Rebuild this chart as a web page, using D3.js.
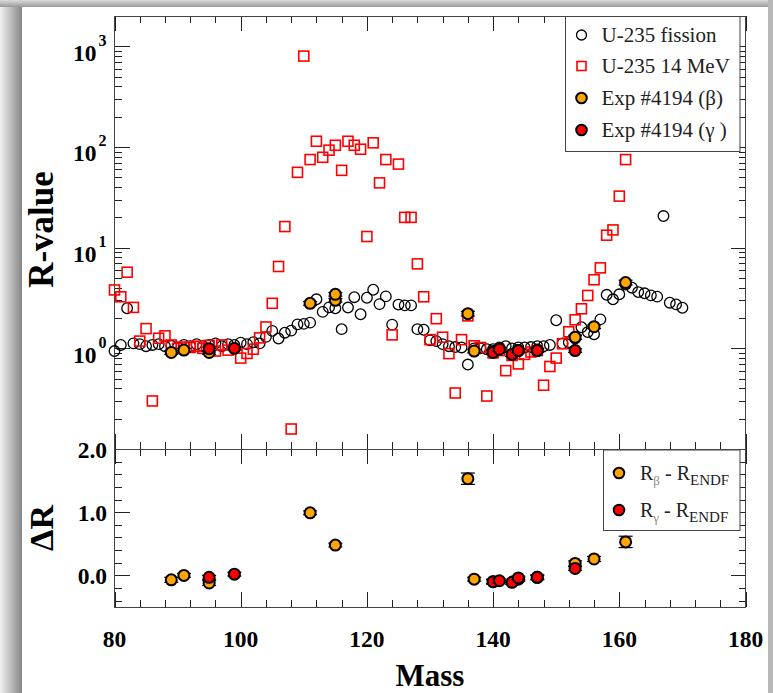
<!DOCTYPE html>
<html>
<head>
<meta charset="utf-8">
<script src="https://d3js.org/d3.v7.min.js"></script>
<style>
  body { margin: 0; background: #fff; }
  svg text { font-family: "Liberation Serif", "Times New Roman", serif; }
</style>
</head>
<body>
<div id="chart"></div>
<script>
// ---- data ----
var fissionMass = [80,81,82,83,84,85,86,87,88,89,90,91,92,93,94,95,96,97,98,99,100,101,102,103,104,105,106,107,108,109,110,
  111,112,113,114,115,116,117,118,119,120,121,122,123,124,125,126,127,128,129,130,131,132,133,134,135,136,137,138,139,140,
  141,142,143,144,145,146,147,148,149,150,151,152,153,154,155,156,157,158,159,160,161,162,163,164,165,166,167,168,169,170];
var fissionR = [0.94,1.08,2.5,1.12,1.1,1.05,1.08,1.1,1.05,1.06,1.02,1.08,1.05,1.1,1.05,1.08,1.12,1.05,1.1,1.08,1.14,
  1.1,1.15,1.12,1.3,1.49,1.25,1.43,1.5,1.73,1.75,1.8,3.07,2.3,2.55,2.5,1.55,2.54,3.22,2.18,3.18,3.82,2.75,3.28,1.72,
  2.72,2.67,2.67,1.55,1.53,1.2,1.18,1.1,1.05,1.03,1.02,0.69,1.0,1.0,0.98,0.98,1.02,1.05,1.0,1.02,1.02,1.03,1.05,1.05,
  1.08,1.9,1.12,1.15,1.25,1.62,1.45,1.38,1.94,3.4,3.07,3.44,4.3,4.0,3.62,3.52,3.36,3.26,20.6,2.84,2.73,2.53];

var mev14Mass = [80,81,82,83,84,85,86,87,88,89,90,91,92,93,94,95,96,97,98,100,101,102,103,104,105,106,107,108,109,110,
  111,112,113,114,115,116,117,118,119,120,121,122,123,124,125,126,127,128,129,130,131,132,133,134,135,136,137,138,139,140,
  141,142,143,144,145,146,147,148,149,150,151,152,153,154,155,156,157,158,159,160,161];
var mev14R = [3.8,3.25,5.7,2.55,1.18,1.57,0.30,1.26,1.33,1.08,1.0,1.03,1.02,1.05,1.0,1.07,0.94,1.08,0.96,0.80,
  0.89,0.98,1.27,1.63,2.8,6.5,16.2,0.158,56,800,75,114,79,93,104,58.6,114,104,95,12.9,110,44,75,1.36,67.6,20,20,
  6.9,3.25,1.22,1.97,1.29,0.886,0.36,1.22,2.1,1.06,1.02,0.336,0.9,0.95,0.6,0.85,0.70,0.87,0.92,0.95,0.43,0.66,0.80,
  1.11,1.46,1.92,2.47,3.35,4.8,6.3,13.3,15,32.5,75];

var betaMass = [89,91,95,111,115,115,136,137,140,144,147,153,156,161];
var betaR    = [0.91,0.96,0.91,2.8,3.0,3.44,2.21,0.94,0.93,0.95,0.96,1.29,1.64,4.5];
var betaErr  = [0.04,0.04,0.04,0.12,0.12,0.14,0.12,0.04,0.04,0.04,0.04,0.06,0.07,0.25];

var gammaMass = [95,99,140,141,143,144,147,153];
var gammaR    = [0.99,1.0,0.91,0.98,0.87,0.95,0.95,0.95];
var gammaErr  = [0.04,0.04,0.04,0.04,0.04,0.04,0.04,0.04];

var dBetaMass = [89,91,95,111,115,136,137,140,144,147,153,156,161];
var dBetaR    = [-0.07,0.0,-0.12,0.99,0.48,1.53,-0.06,-0.1,-0.06,-0.03,0.19,0.26,0.53];
var dBetaErr  = [0.04,0.03,0.04,0.03,0.03,0.09,0.03,0.04,0.03,0.04,0.04,0.04,0.09];

var dGammaMass = [95,99,140,141,143,144,147,153];
var dGammaR    = [-0.03,0.02,-0.1,-0.085,-0.11,-0.04,-0.03,0.11];
var dGammaErr  = [0.03,0.03,0.03,0.03,0.03,0.03,0.03,0.03];

var xTicks = [80,100,120,140,160,180];
var logTicks = [1,10,100,1000];
var dTicks = [0,1,2];

var legendTop = ["U-235 fission","U-235 14 MeV","Exp #4194 (\u03b2)","Exp #4194 (\u03b3 )"];

// ---- layout ----
var W = 773, H = 693;
var pLeft = 114.5, pRight = 745.5, pTop = 16, pMid = 449, pBottom = 607;

var svg = d3.select("#chart").append("svg")
  .attr("width", W).attr("height", H);

// card + shadow
var defs = svg.append("defs");
var lg = defs.append("linearGradient").attr("id","shL").attr("x1",0).attr("x2",1).attr("y1",0).attr("y2",0);
lg.append("stop").attr("offset",0).attr("stop-color","#f2f2f2");
lg.append("stop").attr("offset",1).attr("stop-color","#858585");
var tg = defs.append("linearGradient").attr("id","shT").attr("x1",0).attr("x2",0).attr("y1",0).attr("y2",1);
tg.append("stop").attr("offset",0).attr("stop-color","#dcdcdc");
tg.append("stop").attr("offset",1).attr("stop-color","#9a9a9a");

svg.append("rect").attr("x",0).attr("y",0).attr("width",W).attr("height",H).attr("fill","#fff");
svg.append("rect").attr("x",0).attr("y",0).attr("width",22).attr("height",H).attr("fill","url(#shL)");
svg.append("rect").attr("x",0).attr("y",0).attr("width",W).attr("height",7).attr("fill","url(#shT)");
svg.append("rect").attr("x",768).attr("y",0).attr("width",5).attr("height",H).attr("fill","#b8b8b8");
svg.append("rect").attr("x",22).attr("y",7).attr("width",746).attr("height",H).attr("fill","#fff");

// scales
var x = d3.scaleLinear().domain([80,180]).range([pLeft,pRight]);
var yTop = d3.scaleLog().domain([0.1,2000]).range([pMid,pTop]);
var yBot = d3.scaleLinear().domain([-0.5,2.0]).range([pBottom,pMid]);

var xMinor = d3.range(80,181,4).filter(function(d){ return xTicks.indexOf(d) < 0; });
var yTopMajor = [0.1].concat(logTicks);
var yTopMinor = yTop.ticks().filter(function(d){ return yTopMajor.indexOf(d) < 0 && d < 2000; });
var yBotMinor = d3.range(-0.4,2.0,0.2).map(function(d){ return Math.round(d*10)/10; })
  .filter(function(d){ return dTicks.indexOf(d) < 0; });

var tickCol = "#222";
function ticks(g, gen, vals, len) {
  g.call(gen.tickValues(vals).tickSize(-len).tickFormat(""));
  g.select(".domain").remove();
  g.selectAll("line").attr("stroke", tickCol).attr("shape-rendering","crispEdges");
}

function panel(yScale, y0, y1, majY, minY) {
  var g = svg.append("g");
  [[majY,15],[minY,7]].forEach(function(p){
    ticks(g.append("g").attr("transform","translate("+pLeft+",0)"), d3.axisLeft(yScale), p[0], p[1]);
    ticks(g.append("g").attr("transform","translate("+pRight+",0)"), d3.axisRight(yScale), p[0], p[1]);
  });
  [[xTicks,15],[xMinor,7]].forEach(function(p){
    ticks(g.append("g").attr("transform","translate(0,"+y0+")"), d3.axisTop(x), p[0], p[1]);
    ticks(g.append("g").attr("transform","translate(0,"+y1+")"), d3.axisBottom(x), p[0], p[1]);
  });
  g.append("rect").attr("x",pLeft).attr("y",y0).attr("width",pRight-pLeft).attr("height",y1-y0)
    .attr("fill","none").attr("stroke","#444").attr("shape-rendering","crispEdges");
}
panel(yTop, pTop, pMid, yTopMajor, yTopMinor);
panel(yBot, pMid, pBottom, dTicks, yBotMinor);

// ---- tick labels ----
var lab = svg.append("g").attr("font-weight","bold").attr("fill","#000");
lab.selectAll(".xl").data(xTicks).enter().append("text")
  .attr("x", function(d){ return x(d); }).attr("y", 647)
  .attr("text-anchor","middle").attr("font-size",23.5).text(function(d){ return d; });

var ll = lab.selectAll(".yl").data(logTicks).enter().append("text")
  .attr("x", 106.5).attr("y", function(d){ return yTop(d) + 14.5; })
  .attr("text-anchor","end").attr("font-size",23.5);
ll.append("tspan").text("10");
ll.append("tspan").attr("dx",2).attr("dy",-15).attr("font-size",16)
  .text(function(d){ return Math.round(Math.log10(d)); });

lab.selectAll(".dl").data(dTicks).enter().append("text")
  .attr("x", 107).attr("y", function(d){ return yBot(d) + 8.5; })
  .attr("text-anchor","end").attr("font-size",23.5)
  .text(function(d){ return d3.format(".1f")(d); });

// axis titles
svg.append("text").attr("x",(pLeft+pRight)/2).attr("y",686).attr("text-anchor","middle")
  .attr("font-weight","bold").attr("font-size",31).text("Mass");
svg.append("text").attr("transform","translate(53,"+((pTop+pMid)/2 - 3)+")rotate(-90)")
  .attr("text-anchor","middle").attr("font-weight","bold").attr("font-size",35).text("R-value");
svg.append("text").attr("transform","translate(53,"+((pMid+pBottom)/2)+")rotate(-90)")
  .attr("text-anchor","middle").attr("font-weight","bold").attr("font-size",34).text("\u0394R");

// ---- marks ----
function zip(a,b,c){ return a.map(function(m,i){ return {m:m, v:b[i], e:c ? c[i] : 0}; }); }

function openCircles(g, data, yScale) {
  g.selectAll(null).data(data).enter().append("circle")
    .attr("cx", function(d){ return x(d.m); }).attr("cy", function(d){ return yScale(d.v); })
    .attr("r",5.3).attr("fill","none").attr("stroke","#000").attr("stroke-width",1.3);
}
function openSquares(g, data, yScale) {
  g.selectAll(null).data(data).enter().append("rect")
    .attr("x", function(d){ return x(d.m)-5; }).attr("y", function(d){ return yScale(d.v)-5; })
    .attr("width",10).attr("height",10).attr("fill","none").attr("stroke","#ff0000").attr("stroke-width",1.6);
}
function expPoints(g, data, yScale, col) {
  var e = g.selectAll(null).data(data).enter().append("g");
  e.append("line").attr("x1", function(d){ return x(d.m); }).attr("x2", function(d){ return x(d.m); })
    .attr("y1", function(d){ return yScale(d.v - d.e); }).attr("y2", function(d){ return yScale(d.v + d.e); })
    .attr("stroke","#000").attr("stroke-width",1.2);
  [-1,1].forEach(function(s){
    e.append("line").attr("x1", function(d){ return x(d.m)-7; }).attr("x2", function(d){ return x(d.m)+7; })
      .attr("y1", function(d){ return yScale(d.v + s*d.e); }).attr("y2", function(d){ return yScale(d.v + s*d.e); })
      .attr("stroke","#000").attr("stroke-width",1.2);
  });
  e.append("circle").attr("cx", function(d){ return x(d.m); }).attr("cy", function(d){ return yScale(d.v); })
    .attr("r",5.5).attr("fill",col).attr("stroke","#000").attr("stroke-width",2);
}

var gTop = svg.append("g");
openCircles(gTop, zip(fissionMass, fissionR), yTop);
openSquares(gTop, zip(mev14Mass, mev14R), yTop);
expPoints(gTop, zip(betaMass, betaR, betaErr), yTop, "#ffa500");
expPoints(gTop, zip(gammaMass, gammaR, gammaErr), yTop, "#ff0000");

var gBot = svg.append("g");
expPoints(gBot, zip(dBetaMass, dBetaR, dBetaErr), yBot, "#ffa500");
expPoints(gBot, zip(dGammaMass, dGammaR, dGammaErr), yBot, "#ff0000");

// ---- legends ----
var lg1 = svg.append("g");
lg1.append("rect").attr("x",565.5).attr("y",16.5).attr("width",174.5).attr("height",135)
  .attr("fill","#fff").attr("stroke","#444");
var rows = [35, 66, 98, 130];
lg1.append("circle").attr("cx",581.5).attr("cy",rows[0]).attr("r",5).attr("fill","none").attr("stroke","#000").attr("stroke-width",1.3);
lg1.append("rect").attr("x",577).attr("y",rows[1]-4.5).attr("width",9).attr("height",9).attr("fill","none").attr("stroke","#f00").attr("stroke-width",1.6);
lg1.append("circle").attr("cx",581.5).attr("cy",rows[2]).attr("r",5.3).attr("fill","#ffa500").attr("stroke","#000").attr("stroke-width",2);
lg1.append("circle").attr("cx",581.5).attr("cy",rows[3]).attr("r",5.3).attr("fill","#f00").attr("stroke","#000").attr("stroke-width",2);
lg1.selectAll(null).data(legendTop).enter().append("text")
  .attr("x",601.5).attr("y",function(d,i){ return rows[i] + 6.5; })
  .attr("font-size",21).attr("fill","#222").text(function(d){ return d; });

var lg2 = svg.append("g");
lg2.append("rect").attr("x",603.5).attr("y",450).attr("width",136.5).attr("height",80.5)
  .attr("fill","#fff").attr("stroke","#444");
var rows2 = [[473,"\u03b2","#ffa500"],[510,"\u03b3","#f00"]];
rows2.forEach(function(r){
  lg2.append("circle").attr("cx",619).attr("cy",r[0]).attr("r",5.3).attr("fill",r[2]).attr("stroke","#000").attr("stroke-width",2);
  var t = lg2.append("text").attr("x",640).attr("y",r[0]+6.5).attr("font-size",20).attr("fill","#222");
  t.append("tspan").text("R");
  t.append("tspan").attr("dy",5).attr("font-size",13).attr("fill","#9a8a78").text(r[1]);
  t.append("tspan").attr("dy",-5).text(" - R");
  t.append("tspan").attr("dy",5).attr("font-size",15).text("ENDF");
});
</script>
</body>
</html>
